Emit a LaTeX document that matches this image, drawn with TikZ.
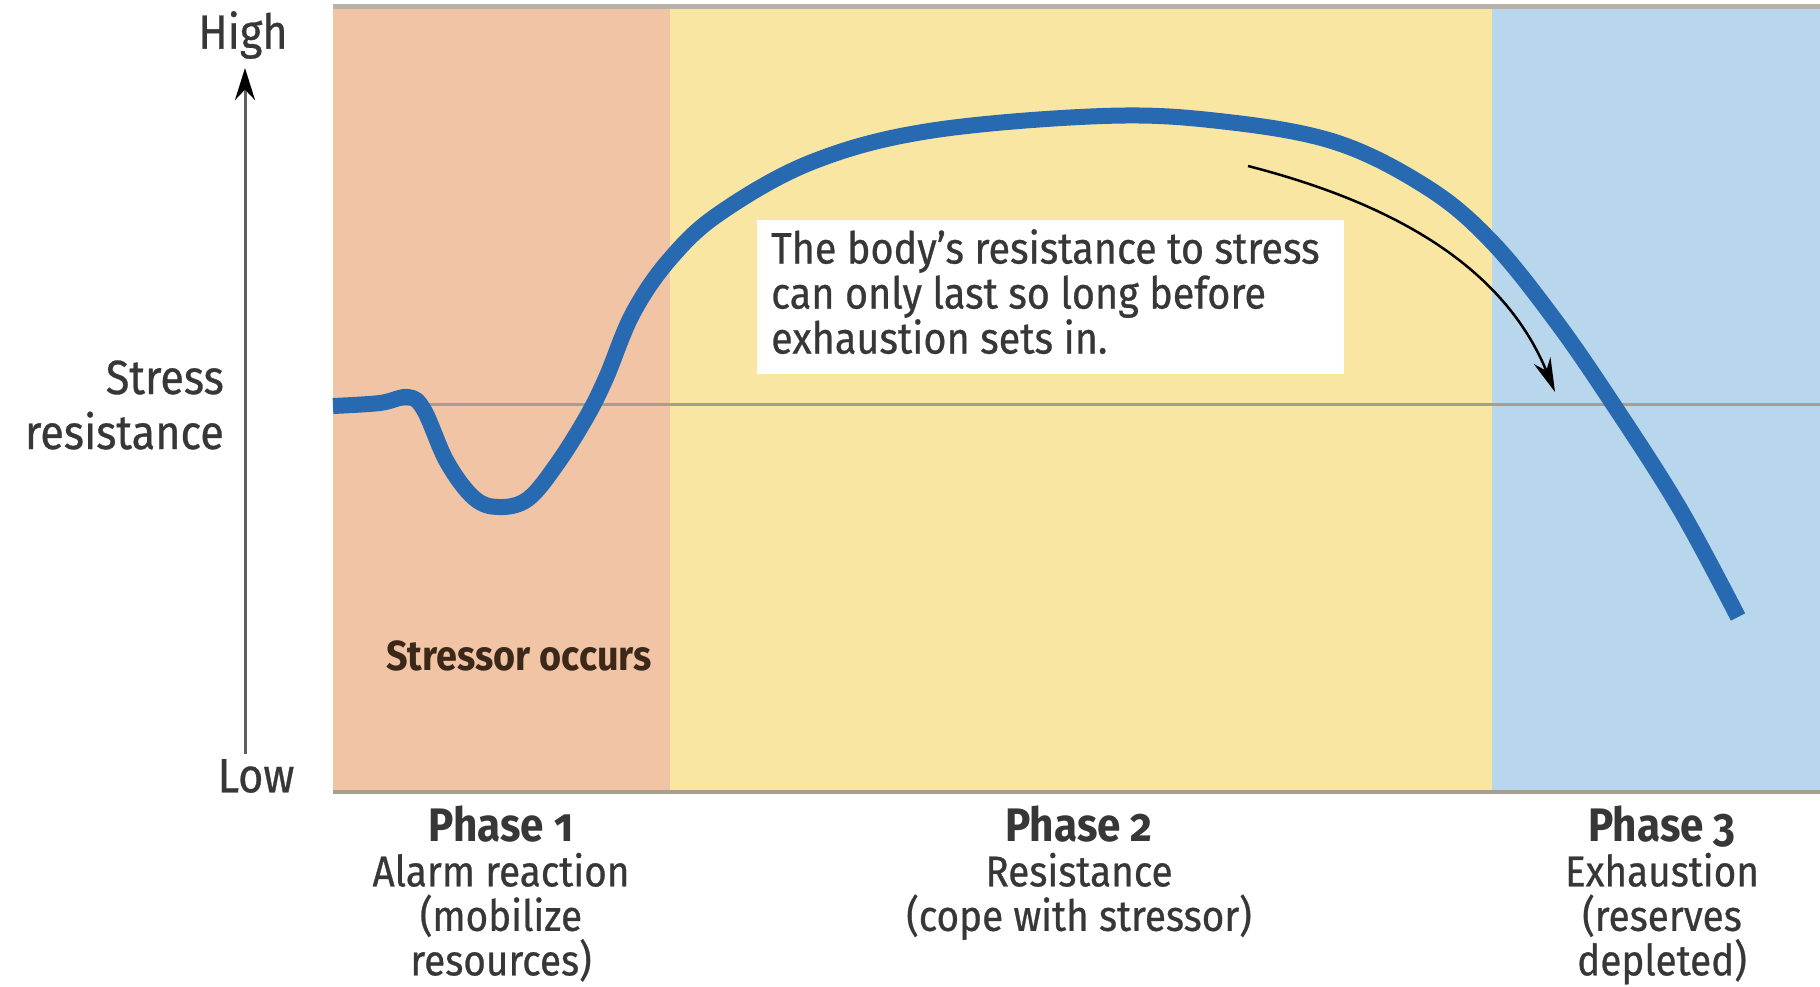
\documentclass[tikz,border=0pt]{standalone}
\usepackage{fontspec}
\setmainfont{Fira Sans}[FakeStretch=0.9,Numbers=OldStyle,FakeBold=0.6,BoldFeatures={FakeBold=0}]
\usetikzlibrary{arrows.meta}
\definecolor{phaseA}{RGB}{242,196,166}
\definecolor{phaseB}{RGB}{249,230,163}
\definecolor{phaseC}{RGB}{185,215,236}
\definecolor{curveblue}{RGB}{40,106,178}
\definecolor{gridgray}{RGB}{165,158,145}
\definecolor{txt}{RGB}{55,55,55}
\tikzset{
  lbl/.style={inner sep=0pt, text=txt, font=\fontsize{44}{45}\selectfont},
  axlbl/.style={lbl, font=\fontsize{48}{55}\selectfont},
  phaselbl/.style={lbl, align=center, anchor=north, font=\fontsize{43}{44.5}\selectfont},
}
\begin{document}
\begin{tikzpicture}[x=1pt,y=-1pt]
\useasboundingbox (0,0) rectangle (1820,986);
\fill[white] (0,0) rectangle (1820,986);
% phase bands
\fill[phaseA] (333,6) rectangle (670,792);
\fill[phaseB] (670,6) rectangle (1492,792);
\fill[phaseC] (1492,6) rectangle (1820,792);
% borders
\draw[gridgray!80, line width=5pt] (333,6) -- (1820,6);
\draw[gridgray, line width=4pt] (333,792) -- (1820,792);
\draw[gridgray, line width=3pt] (333,404) -- (1820,404);
% axis
\coordinate (axbot) at (245,754);
\coordinate (axtop) at (245,68);
\draw[txt!80, line width=3pt, -{Stealth[length=32pt,width=20pt,color=black]}] (axbot) -- (axtop);
\node[axlbl] (high) at (243,35) {High};
\node[axlbl] (low) at (256,776) {Low};
\node[axlbl, align=right, anchor=east] (sr) at (224,405) {Stress\\resistance};
% text box
\fill[white] (757,220) rectangle (1344,374);
\node[lbl, align=left, anchor=north west] (note) at (771,229) {The body's resistance to stress\\can only last so long before\\exhaustion sets in.};
% curve
\draw[curveblue, line width=16pt, line cap=butt, line join=round]
  plot[smooth, tension=0.6] coordinates {
  (333,406) (380,403) (408,397) (424,410) (447,462) (474,498) (499,507)
  (528,499) (557,464) (586,418) (606,378) (633,313) (670,259) (720,213)
  (812,162) (929,131) (1103,116) (1219,121) (1335,142) (1428,188)
  (1492,242) (1555,320) (1613,404) (1680,509) (1738,617)};
% annotation arrow
\coordinate (arrS) at (1248,166);
\coordinate (arrE) at (1555,392);
\draw[black, line width=2.5pt, -{Stealth[length=34pt,width=18pt]}]
  (arrS) .. controls (1400,205) and (1505,270) .. (arrE);
% stressor
\node[lbl, font=\bfseries\fontsize{42}{45}\selectfont, text={rgb,255:red,60;green,40;blue,25}] (stressor) at (519,656) {Stressor occurs};
% phase labels
\node[phaselbl] (p1) at (501,806) {{\fontsize{47}{45}\selectfont\bfseries Phase 1}\\Alarm reaction\\(mobilize\\resources)};
\node[phaselbl] (p2) at (1079,806) {{\fontsize{47}{45}\selectfont\bfseries Phase 2}\\Resistance\\(cope with stressor)};
\node[phaselbl] (p3) at (1662,806) {{\fontsize{47}{45}\selectfont\bfseries Phase 3}\\Exhaustion\\(reserves\\depleted)};
\end{tikzpicture}
\end{document}
